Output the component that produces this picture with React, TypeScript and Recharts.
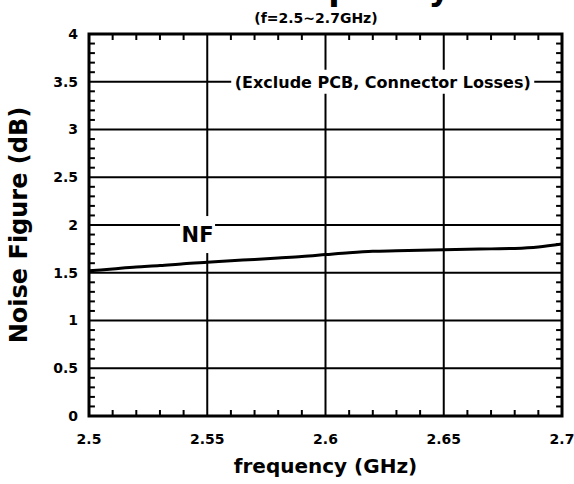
import React from 'react';
import {
  LineChart,
  Line,
  XAxis,
  YAxis,
  CartesianGrid,
  ReferenceArea,
  ReferenceLine,
  ReferenceDot,
} from 'recharts';

const freqGHz = [2.5, 2.51, 2.52, 2.53, 2.54, 2.55, 2.56, 2.57, 2.58, 2.59, 2.6, 2.61, 2.62, 2.63, 2.64, 2.65, 2.66, 2.67, 2.68, 2.69, 2.7];
const nfDb = [1.52, 1.54, 1.56, 1.575, 1.595, 1.61, 1.625, 1.64, 1.655, 1.67, 1.69, 1.71, 1.725, 1.73, 1.735, 1.74, 1.745, 1.75, 1.755, 1.77, 1.8];

const xTicks = [2.5, 2.55, 2.6, 2.65, 2.7];
const yTicks = [0, 0.5, 1, 1.5, 2, 2.5, 3, 3.5, 4];
const xMinor = [2.51, 2.52, 2.53, 2.54, 2.56, 2.57, 2.58, 2.59, 2.61, 2.62, 2.63, 2.64, 2.66, 2.67, 2.68, 2.69];
const yMinor = [0.1, 0.2, 0.3, 0.4, 0.6, 0.7, 0.8, 0.9, 1.1, 1.2, 1.3, 1.4, 1.6, 1.7, 1.8, 1.9, 2.1, 2.2, 2.3, 2.4, 2.6, 2.7, 2.8, 2.9, 3.1, 3.2, 3.3, 3.4, 3.6, 3.7, 3.8, 3.9];

const data = freqGHz.map((f, i) => ({ f, nf: nfDb[i] }));

const FONT = '"DejaVu Sans", sans-serif';

// text on a white box, centred on the reference dot
const boxLabel = (text: string, w: number, h: number, size: number) => (props: any) => {
  const vb = props.viewBox || {};
  const cx = vb.x + (vb.width || 0) / 2;
  const cy = vb.y + (vb.height || 0) / 2;
  return (
    <g>
      <rect x={cx - w / 2} y={cy - h / 2} width={w} height={h} fill="#fff" />
      <text
        x={cx}
        y={cy + size * 0.36}
        textAnchor="middle"
        fontFamily={FONT}
        fontWeight="bold"
        fontSize={size}
        fill="#000"
      >
        {text}
      </text>
    </g>
  );
};

const App: React.FC = () => {
  const tickStyle = { fill: '#000', fontSize: 14, fontWeight: 'bold', fontFamily: FONT };
  return (
    <div style={{ position: 'absolute', left: 0, top: 0, width: 574, height: 484, background: '#fff' }}>
      <svg width={574} height={484} style={{ position: 'absolute', left: 0, top: 0 }}>
        {/* title sits above the picture's top edge, only descenders show */}
        <text x={130} y={-0.5} fontFamily={FONT} fontWeight="bold" fontSize={33} fill="#000">
          NF vs. Frequency
        </text>
        <text x={316} y={23} textAnchor="middle" fontFamily={FONT} fontWeight="bold" fontSize={14} fill="#000">
          (f=2.5~2.7GHz)
        </text>
      </svg>
      <div style={{ position: 'absolute', left: 0, top: 0 }}>
        <LineChart width={574} height={484} data={data} margin={{ top: 34, right: 12, bottom: 0, left: 0 }}>
          <CartesianGrid stroke="#000" strokeWidth={2} horizontalValues={yTicks} verticalValues={xTicks} />
          <XAxis
            dataKey="f"
            type="number"
            domain={[2.5, 2.7]}
            ticks={xTicks}
            allowDataOverflow
            height={68}
            axisLine={false}
            tickLine={false}
            tickSize={0}
            tickMargin={18}
            tick={tickStyle}
            label={{
              value: 'frequency (GHz)',
              position: 'insideBottom',
              offset: 11,
              style: { fill: '#000', fontSize: 20, fontWeight: 'bold', fontFamily: FONT },
            }}
          />
          <YAxis
            type="number"
            domain={[0, 4]}
            ticks={yTicks}
            allowDataOverflow
            width={89}
            axisLine={false}
            tickLine={false}
            tickSize={0}
            tickMargin={11}
            tick={tickStyle}
            label={{
              value: 'Noise Figure (dB)',
              angle: -90,
              position: 'insideLeft',
              offset: 18,
              style: { textAnchor: 'middle', fill: '#000', fontSize: 24, fontWeight: 'bold', fontFamily: FONT },
            }}
          />
          {xMinor.map((x) => (
            <ReferenceLine key={'xb' + x} segment={[{ x, y: 0 }, { x, y: 0.063 }]} stroke="#000" strokeWidth={2} ifOverflow="visible" />
          ))}
          {xMinor.map((x) => (
            <ReferenceLine key={'xt' + x} segment={[{ x, y: 4 }, { x, y: 3.937 }]} stroke="#000" strokeWidth={2} ifOverflow="visible" />
          ))}
          {yMinor.map((y) => (
            <ReferenceLine key={'yl' + y} segment={[{ x: 2.5, y }, { x: 2.5025, y }]} stroke="#000" strokeWidth={2} ifOverflow="visible" />
          ))}
          {yMinor.map((y) => (
            <ReferenceLine key={'yr' + y} segment={[{ x: 2.7, y }, { x: 2.6975, y }]} stroke="#000" strokeWidth={2} ifOverflow="visible" />
          ))}
          <ReferenceDot x={2.6242} y={3.5} r={0} fill="none" stroke="none" ifOverflow="visible" label={boxLabel('(Exclude PCB, Connector Losses)', 303, 24, 16)} />
          <ReferenceDot x={2.5459} y={1.9} r={0} fill="none" stroke="none" ifOverflow="visible" label={boxLabel('NF', 35, 37, 21)} />
          <ReferenceArea x1={2.5} x2={2.7} y1={0} y2={4} fill="none" stroke="#000" strokeWidth={3} ifOverflow="visible" />
          <Line dataKey="nf" type="monotone" stroke="#000" strokeWidth={3} dot={false} isAnimationActive={false} />
        </LineChart>
      </div>
    </div>
  );
};

export default App;
